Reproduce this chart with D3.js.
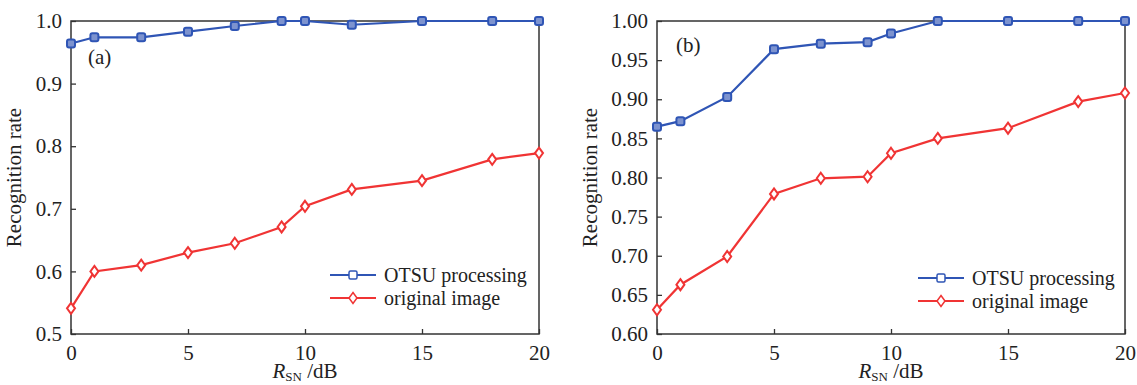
<!DOCTYPE html>
<html>
<head>
<meta charset="utf-8">
<script src="https://cdn.jsdelivr.net/npm/d3@7"></script>
<style>
  body { margin: 0; background: #fff; }
  svg text { font-family: "Liberation Serif", "DejaVu Serif", serif !important; fill: #222; }
</style>
</head>
<body>
<svg id="chart" width="1137" height="385"></svg>
<script>
// x positions (R_SN in dB), shared by both panels
var snr = [0, 1, 3, 5, 7, 9, 10, 12, 15, 18, 20];

// panel (a)
var otsuA = [0.964, 0.974, 0.974, 0.983, 0.992, 1.0, 1.0, 0.994, 1.0, 1.0, 1.0];
var origA = [0.541, 0.600, 0.610, 0.630, 0.645, 0.671, 0.704, 0.731, 0.745, 0.779, 0.789];
var yTicksA = [0.5, 0.6, 0.7, 0.8, 0.9, 1.0];

// panel (b)
var otsuB = [0.865, 0.872, 0.903, 0.964, 0.971, 0.973, 0.984, 1.0, 1.0, 1.0, 1.0];
var origB = [0.631, 0.663, 0.699, 0.779, 0.799, 0.801, 0.831, 0.850, 0.863, 0.897, 0.908];
var yTicksB = [0.60, 0.65, 0.70, 0.75, 0.80, 0.85, 0.90, 0.95, 1.00];

var xTicks = [0, 5, 10, 15, 20];
var seriesNames = ["OTSU processing", "original image"];

var blue = "#2f55b5", red = "#f03434", axisColor = "#333";

var svg = d3.select("#chart");

function drawPanel(cfg) {
    let left = cfg.left, top = 21, width = cfg.width, height = 313;

    let g = svg.append("g").attr("transform", `translate(${left},${top})`);

    let x = d3.scaleLinear().domain([0, 20]).range([0, width]);
    let y = d3.scaleLinear().domain(cfg.yDomain).range([height, 0]);

    // frame
    g.append("rect")
        .attr("width", width).attr("height", height)
        .attr("fill", "none").attr("stroke", axisColor).attr("stroke-width", 1.5);

    // axes with inward ticks
    let xAxis = d3.axisBottom(x).tickValues(xTicks).tickSize(-5).tickPadding(11).tickSizeOuter(0);
    let yAxis = d3.axisLeft(y).tickValues(cfg.yTicks).tickFormat(d3.format(cfg.fmt))
        .tickSize(-5).tickPadding(9).tickSizeOuter(0);

    let xg = g.append("g").attr("transform", `translate(0,${height})`).call(xAxis);
    let yg = g.append("g").call(yAxis);
    [xg, yg].forEach(a => {
        a.attr("font-family", "Liberation Serif").attr("font-size", 21);
        a.select(".domain").remove();
        a.selectAll(".tick line").attr("stroke", axisColor).attr("stroke-width", 1.3);
        a.selectAll(".tick text").attr("fill", "#222");
    });

    // lines
    let line = d3.line().x((d, i) => x(snr[i])).y(d => y(d));
    g.append("path").datum(cfg.orig).attr("d", line)
        .attr("fill", "none").attr("stroke", red).attr("stroke-width", 2.2);
    g.append("path").datum(cfg.otsu).attr("d", line)
        .attr("fill", "none").attr("stroke", blue).attr("stroke-width", 2.2);

    // markers
    g.selectAll(".dia").data(cfg.orig).join("path")
        .attr("class", "dia")
        .attr("d", "M0,-5.5L4,0L0,5.5L-4,0Z")
        .attr("transform", (d, i) => `translate(${x(snr[i])},${y(d)})`)
        .attr("fill", "#fff").attr("stroke", red).attr("stroke-width", 2);
    g.selectAll(".sq").data(cfg.otsu).join("rect")
        .attr("class", "sq")
        .attr("x", (d, i) => x(snr[i]) - 4).attr("y", d => y(d) - 4)
        .attr("width", 8).attr("height", 8).attr("rx", 2)
        .attr("fill", "#7d93cf").attr("stroke", blue).attr("stroke-width", 2);

    // panel label
    g.append("text").attr("x", cfg.labelX).attr("y", cfg.labelY)
        .attr("font-size", 21).text(cfg.label);

    // legend
    let lg = g.append("g").attr("transform", `translate(${cfg.legX},${cfg.legY})`);
    seriesNames.forEach((name, i) => {
        let row = lg.append("g").attr("transform", `translate(0,${i * 23})`);
        let c = i === 0 ? blue : red;
        row.append("line").attr("x1", 0).attr("x2", 46).attr("stroke", c).attr("stroke-width", 1.8);
        if (i === 0) {
            row.append("rect").attr("x", 19).attr("y", -4).attr("width", 8).attr("height", 8).attr("rx", 1.5)
                .attr("fill", "#fff").attr("stroke", c).attr("stroke-width", 1.5);
        } else {
            row.append("path").attr("d", "M23,-5.5L27,0L23,5.5L19,0Z")
                .attr("fill", "#fff").attr("stroke", c).attr("stroke-width", 1.5);
        }
        row.append("text").attr("x", 54).attr("y", 7).attr("font-size", 20).text(name);
    });

    // y axis title
    g.append("text")
        .attr("transform", `translate(${cfg.yTitleX},${height / 2})rotate(-90)`)
        .attr("text-anchor", "middle").attr("font-size", 21)
        .text("Recognition rate");

    // x axis title
    let xt = g.append("text")
        .attr("x", width / 2).attr("y", height + 44)
        .attr("text-anchor", "middle").attr("font-size", 21);
    xt.append("tspan").attr("font-style", "italic").text("R");
    xt.append("tspan").attr("font-size", 13).attr("dy", 3).text("SN");
    xt.append("tspan").attr("dy", -3).text(" /dB");
}

drawPanel({
    left: 71, width: 468, yDomain: [0.5, 1.0], yTicks: yTicksA, fmt: ".1f",
    otsu: otsuA, orig: origA, label: "(a)", labelX: 17, labelY: 43,
    legX: 259, legY: 254, yTitleX: -50
});

drawPanel({
    left: 657, width: 468, yDomain: [0.6, 1.0], yTicks: yTicksB, fmt: ".2f",
    otsu: otsuB, orig: origB, label: "(b)", labelX: 19, labelY: 31,
    legX: 261, legY: 257, yTitleX: -60
});
</script>
</body>
</html>
